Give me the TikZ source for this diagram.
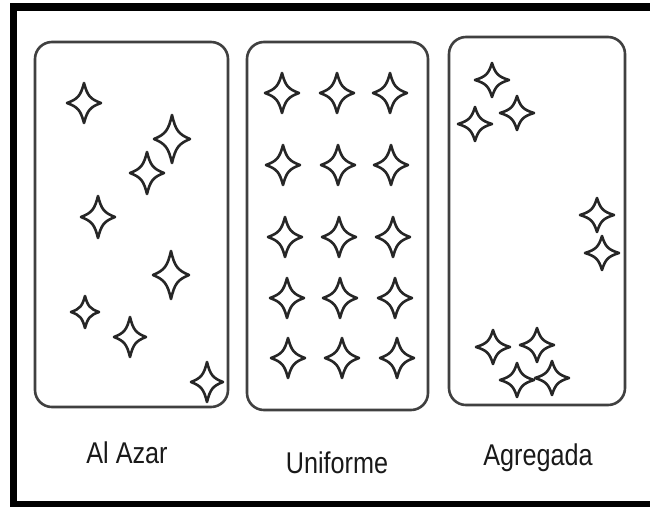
\documentclass[tikz,border=0pt]{standalone}
\usepackage{fontspec}
\usepackage{graphicx}
\setmainfont{Liberation Sans}
\tikzset{
  starline/.style={draw=black!85, line width=2.6pt, line join=round},
  boxline/.style={draw=black!75, line width=2.6pt, rounded corners=17pt},
  lbl/.style={anchor=base, font=\fontsize{30}{32}\selectfont, text=black!90, inner sep=0pt},
  pics/astar/.style args={#1/#2}{code={
    \draw[starline] (0,#2) .. controls (0.2*#1,0.36*#2) and (0.36*#1,0.2*#2) .. (#1,0)
      .. controls (0.36*#1,-0.2*#2) and (0.2*#1,-0.36*#2) .. (0,-#2)
      .. controls (-0.2*#1,-0.36*#2) and (-0.36*#1,-0.2*#2) .. (-#1,0)
      .. controls (-0.36*#1,0.2*#2) and (-0.2*#1,0.36*#2) .. cycle;
  }}
}
\begin{document}
\begin{tikzpicture}[x=1pt,y=-1pt]
\useasboundingbox (0,0) rectangle (650,507);
\fill[white] (0,0) rectangle (650,507);
% frame
\fill[black] (10,3) rectangle (650,11);
\fill[black] (10,3) rectangle (17,507);
\fill[black] (10,501) rectangle (650,507);
% boxes
\draw[boxline] (35,42) rectangle (228,407);
\draw[boxline] (247,42) rectangle (428,410);
\draw[boxline] (449,37) rectangle (625,405);
% Al Azar stars
\pic at (84,103) {astar=17/20};
\pic at (172,139) {astar=18/24};
\pic at (147,173) {astar=17/21};
\pic at (98,217) {astar=17/21};
\pic at (171,275) {astar=18/24};
\pic at (85,312) {astar=14/16};
\pic at (130,337) {astar=16/20};
\pic at (207,382) {astar=16/20};
% Uniforme stars
\foreach \x/\y in {282/93,337/93,390/93,
                   283/165,338/165,391/165,
                   285/237,339/237,393/237,
                   287/298,340/298,395/298,
                   288/358,342/358,397/358}
  \pic at (\x,\y) {astar=17/20};
% Agregada stars
\foreach \x/\y in {492/80,475/124,517/113,597/215,602/253,
                   493/347,537/345,517/380,552/378}
  \pic at (\x,\y) {astar=17/17};
% labels
\node[lbl] (azar) at (127,463) {\scalebox{0.84}[1]{Al Azar}};
\node[lbl] (unif) at (337,473) {\scalebox{0.84}[1]{Uniforme}};
\node[lbl] (agre) at (538,465) {\scalebox{0.84}[1]{Agregada}};
\end{tikzpicture}
\end{document}
